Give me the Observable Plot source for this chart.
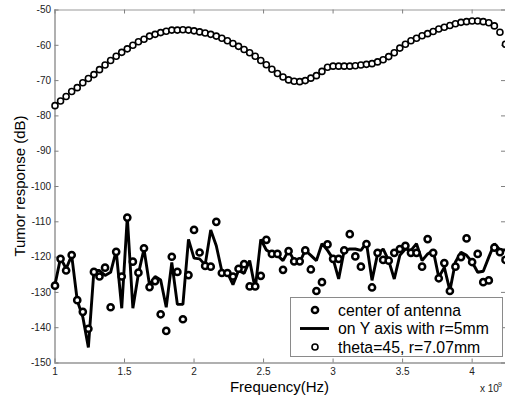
<!DOCTYPE html>
<html><head><meta charset="utf-8">
<script src="https://cdn.jsdelivr.net/npm/d3@7"></script>
<script src="https://cdn.jsdelivr.net/npm/@observablehq/plot@0.6"></script>
<style>
body{margin:0;background:#fff;}
#chart{width:505px;height:398px;overflow:hidden;}
</style></head><body><div id="chart"></div>
<script>
const freq = [1.00,1.04,1.08,1.12,1.16,1.20,1.24,1.28,1.32,1.36,1.40,1.44,1.48,1.52,1.56,1.60,1.64,1.68,1.72,1.76,
1.80,1.84,1.88,1.92,1.96,2.00,2.04,2.08,2.12,2.16,2.20,2.24,2.28,2.32,2.36,2.40,2.44,2.48,2.52,2.56,
2.60,2.64,2.68,2.72,2.76,2.80,2.84,2.88,2.92,2.96,3.00,3.04,3.08,3.12,3.16,3.20,3.24,3.28,3.32,3.36,
3.40,3.44,3.48,3.52,3.56,3.60,3.64,3.68,3.72,3.76,3.80,3.84,3.88,3.92,3.96,4.00,4.04,4.08,4.12,4.16,
4.20,4.24];

const centerOfAntenna = [-128.1,-120.5,-123.8,-119.4,-132.2,-135.5,-140.3,-124.2,-125.5,-123,
-134.2,-118.5,-125.5,-108.8,-121.3,-124.4,-117.5,-128.5,-126.8,-136.2,
-140.9,-119.9,-124.2,-137.6,-125.1,-112.3,-118.7,-122.5,-122.7,-110,
-124.5,-124.5,-125.5,-123.3,-122,-128.3,-128.3,-125.3,-115.1,-119.1,
-119.1,-123.6,-118.3,-121.2,-121.2,-118.1,-123.5,-129.6,-127.1,-116.4,
-120.5,-120.5,-118.1,-113.5,-119.8,-122.7,-116.3,-128.6,-118.8,-120.8,
-121,-118.8,-117.7,-116.8,-118.8,-118.8,-122.7,-114.9,-118.8,-126,
-121.7,-129.6,-122.7,-120,-114.7,-121.4,-119.1,-127.1,-126.6,-117.3,
-118.6,-120.8];

const onYAxis = [-127.8,-120.2,-123.3,-119.5,-132.3,-137,-145.6,-123.8,-123.8,-125.2,
-124.3,-118.2,-134.5,-108.7,-134.5,-124.7,-117.7,-128,-125.5,-126.5,
-134.2,-121.5,-133.4,-133.4,-115,-120.3,-120.5,-122.2,-112.3,-116.8,
-124,-124.4,-127.8,-123.8,-124.6,-121,-129,-115,-118,-119,
-119.5,-121,-118.1,-121,-121.4,-118.1,-119.5,-121,-116.2,-118.1,
-120.5,-126.2,-118.1,-117.7,-117.7,-118.1,-116,-126.6,-119.1,-117.7,
-121,-126.2,-119.5,-117.7,-118.1,-116.2,-121,-119.1,-118.1,-125.7,
-122.9,-129.5,-121.4,-118.6,-119.5,-121.4,-124.3,-124,-120,-116.2,
-118,-118];

const theta45 = [-77.1,-75.8,-74.5,-73.1,-72.0,-70.6,-69.4,-68.3,-66.9,-65.6,
-64.3,-63.1,-62.0,-61.0,-60.0,-59.0,-58.3,-57.4,-56.9,-56.4,
-56.0,-55.7,-55.7,-55.6,-55.7,-55.9,-56.2,-56.5,-56.9,-57.4,
-58.0,-58.7,-59.5,-60.3,-61.2,-62.1,-63.1,-64.3,-65.5,-66.8,
-68.0,-69.0,-69.8,-70.2,-70.3,-70.0,-69.3,-68.6,-67.4,-66.2,
-65.9,-65.9,-65.9,-65.9,-65.8,-65.6,-65.4,-65.2,-64.7,-64.1,
-63.2,-62.1,-60.8,-59.7,-58.7,-58.0,-57.3,-56.7,-56.1,-55.4,
-54.9,-54.4,-53.9,-53.5,-53.3,-53.1,-53.1,-53.3,-53.6,-54.5,
-56.3,-59.7];

const xTicks = [1, 1.5, 2, 2.5, 3, 3.5, 4];
const yTicks = [-150, -140, -130, -120, -110, -100, -90, -80, -70, -60, -50];
const seriesLabels = ["center of antenna", "on Y axis with r=5mm", "theta=45, r=7.07mm"];
const xLabel = "Frequency(Hz)";
const yLabel = "Tumor response (dB)";
const xExponent = "x 10";
const xExponentPower = "9";

const rows = freq.map((f, i) => ({f, c: centerOfAntenna[i], l: onYAxis[i], t: theta45[i]}));

const W = 505, H = 398, mL = 54.5, mR = 0, mT = 9.5, mB = 35.5;
const plotW = W - mL - mR, plotH = H - mT - mB, tk = 4;
const font = "'Liberation Sans', Arial, Helvetica, sans-serif";

const svg = Plot.plot({
  width: W, height: H,
  marginLeft: mL, marginRight: mR, marginTop: mT, marginBottom: mB,
  style: {fontFamily: font, background: "#fff", overflow: "hidden", color: "#000"},
  x: {domain: [1, 4.24]},
  y: {domain: [-150, -50]},
  marks: [
    Plot.frame({stroke: "#9a9a9a", strokeWidth: 1}),
    Plot.ruleX([1], {stroke: "#b0b0b0", strokeWidth: 2}),
    Plot.ruleY([-150], {stroke: "#b0b0b0", strokeWidth: 2}),
    Plot.tickX(xTicks, {x: d => d, insetBottom: plotH - tk, stroke: "#808080"}),
    Plot.tickX(xTicks, {x: d => d, insetTop: plotH - tk, stroke: "#808080"}),
    Plot.tickY(yTicks, {y: d => d, insetRight: plotW - tk, stroke: "#808080"}),
    Plot.tickY(yTicks, {y: d => d, insetLeft: plotW - tk, stroke: "#808080"}),
    Plot.axisX(xTicks, {tickSize: 0, tickPadding: 5, fontSize: 10, fill: "#222", tickFormat: d => String(d), label: null}),
    Plot.axisY(yTicks, {tickSize: 0, tickPadding: 4, fontSize: 10, fill: "#222", tickFormat: d => String(d), label: null}),
    Plot.line(rows, {x: "f", y: "l", stroke: "#000", strokeWidth: 2.9, strokeLinejoin: "miter"}),
    Plot.dot(rows, {x: "f", y: "c", r: 3.1, stroke: "#000", strokeWidth: 2.5, fill: "#fff"}),
    Plot.dot(rows, {x: "f", y: "t", r: 3, stroke: "#000", strokeWidth: 1.6, fill: "#fff"})
  ]
});

const s = d3.select(svg);
// axis titles
s.append("text").attr("x", 279.5).attr("y", 392).attr("text-anchor", "middle")
  .style("font", `15px ${font}`).attr("fill", "#000").text(xLabel);
s.append("text").attr("transform", "translate(25,186) rotate(-90)").attr("text-anchor", "middle")
  .style("font", `15px ${font}`).attr("fill", "#000").text(yLabel);
s.append("text").attr("x", 480).attr("y", 392).attr("text-anchor", "start")
  .style("font", `10px ${font}`).attr("fill", "#222").text(xExponent);
s.append("text").attr("x", 498).attr("y", 387).attr("text-anchor", "start")
  .style("font", `7px ${font}`).attr("fill", "#222").text(xExponentPower);

// legend
const lg = s.append("g").attr("text-anchor", "start");
lg.append("rect").attr("x", 290.5).attr("y", 297.5).attr("width", 212).attr("height", 59)
  .attr("fill", "#fff").attr("stroke", "#8a8a8a");
const rowY = [310, 328.5, 347];
lg.append("circle").attr("cx", 315).attr("cy", rowY[0]).attr("r", 3.1).attr("fill", "#fff").attr("stroke", "#000").attr("stroke-width", 2.5);
lg.append("line").attr("x1", 300).attr("x2", 329).attr("y1", rowY[1]).attr("y2", rowY[1]).attr("stroke", "#000").attr("stroke-width", 2.9);
lg.append("circle").attr("cx", 315).attr("cy", rowY[2]).attr("r", 3).attr("fill", "#fff").attr("stroke", "#000").attr("stroke-width", 1.6);
seriesLabels.forEach((t, i) => {
  lg.append("text").attr("x", 338).attr("y", rowY[i] + 5.5).attr("text-anchor", "start")
    .style("font", `15.8px ${font}`).attr("fill", "#000").text(t);
});

document.getElementById("chart").appendChild(svg);
</script>
</body></html>
